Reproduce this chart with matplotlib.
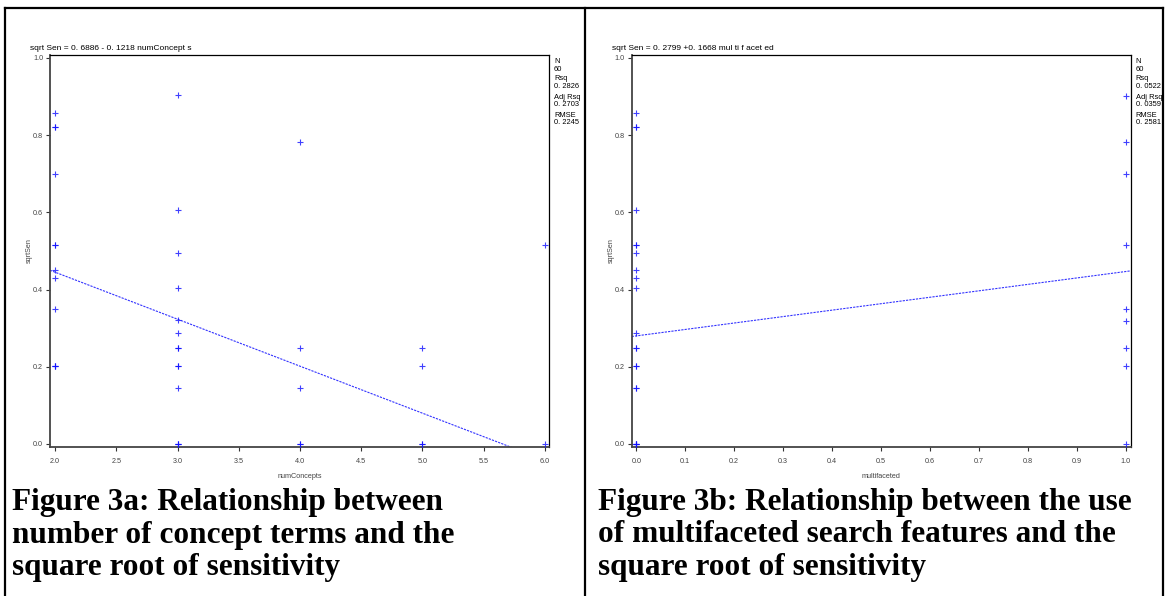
import matplotlib.pyplot as plt
from matplotlib.lines import Line2D

# data
# Figure 3a: numConcepts vs sqrtSen
num_concepts = [2, 2, 2, 2, 2, 2, 2, 2, 2, 2, 2, 2,
                3, 3, 3, 3, 3, 3, 3, 3, 3, 3, 3, 3, 3, 3,
                4, 4, 4, 4, 4,
                5, 5, 5, 5,
                6, 6]
sqrt_sen_a = [0.857, 0.820, 0.820, 0.699, 0.516, 0.516, 0.451, 0.429, 0.350, 0.203, 0.203, 0.203,
              0.903, 0.606, 0.494, 0.405, 0.320, 0.287, 0.248, 0.248, 0.203, 0.203, 0.144, 0.0, 0.0, 0.0,
              0.782, 0.248, 0.144, 0.0, 0.0,
              0.248, 0.203, 0.0, 0.0,
              0.516, 0.0]
coef_a = (0.6886, -0.1218)
stats_a = ['N', '60', 'Rsq', '0. 2826', 'Adj Rsq', '0. 2703', 'RMSE', '0. 2245']

# Figure 3b: multifaceted vs sqrtSen
multifaceted = [0, 0, 0, 0, 0, 0, 0, 0, 0, 0, 0, 0, 0, 0, 0, 0, 0, 0, 0, 0, 0,
                1, 1, 1, 1, 1, 1, 1, 1, 1]
sqrt_sen_b = [0.857, 0.820, 0.820, 0.606, 0.516, 0.516, 0.494, 0.451, 0.429, 0.405, 0.287,
              0.248, 0.248, 0.203, 0.203, 0.144, 0.144, 0.0, 0.0, 0.0, 0.0,
              0.902, 0.782, 0.699, 0.516, 0.350, 0.319, 0.248, 0.203, 0.0]
coef_b = (0.2799, 0.1668)
stats_b = ['N', '60', 'Rsq', '0. 0522', 'Adj Rsq', '0. 0359', 'RMSE', '0. 2581']

cap_a = ['Figure 3a: Relationship between', 'number of concept terms and the',
         'square root of sensitivity']
cap_b = ['Figure 3b: Relationship between the use', 'of multifaceted search features and the',
         'square root of sensitivity']

W, H = 1165, 596
fig = plt.figure(figsize=(W / 100, H / 100), dpi=100)
plt.rcParams['font.family'] = ['Liberation Sans', 'DejaVu Sans']


def fx(px):
    return px / W


def fy(py):
    return 1 - py / H


# outer frame and divider
for (x0, y0, x1, y1) in [(5, 8, 1163, 8), (5, 8, 5, 596), (585, 8, 585, 596), (1163, 8, 1163, 596)]:
    fig.add_artist(Line2D([fx(x0), fx(x1)], [fy(y0), fy(y1)], color='black', lw=1.6))


def panel(left, right, x, y, coef, xlim, xticks, xlab, title, stats, stats_x):
    ax = fig.add_axes([fx(left), fy(447), fx(right - left), (447 - 54.5) / H])
    ax.scatter(x, y, marker='+', s=14, color='#1010ff', linewidths=0.8, alpha=0.8, zorder=3)
    b0, b1 = coef
    ax.plot(xlim, [b0 + b1 * xlim[0], b0 + b1 * xlim[1]], color='#3333ff', lw=0.8,
            dashes=(2, 1), zorder=2)
    ax.set_xlim(xlim)
    ax.set_ylim(-0.008, 1.009)
    ax.set_xticks(xticks)
    ax.set_xticklabels(['%.1f' % t for t in xticks])
    ax.set_yticks([0.0, 0.2, 0.4, 0.6, 0.8, 1.0])
    ax.set_yticklabels(['0.0', '0.2', '0.4', '0.6', '0.8', '1.0'])
    ax.tick_params(labelsize=5.2, labelcolor='#444444', length=3, width=0.8, pad=2, color='#333333')
    ax.tick_params(axis='x', pad=5)
    for s in ['left', 'bottom']:
        ax.spines[s].set_color('#444444')
        ax.spines[s].set_linewidth(1.3)
    for s in ['top', 'right']:
        ax.spines[s].set_color('black')
        ax.spines[s].set_linewidth(0.9)
    ax.set_xlabel(xlab, fontsize=5.2, color='#444444')
    ax.xaxis.set_label_coords(0.5, -0.066)
    ax.set_ylabel('sqrtSen', fontsize=5.2, color='#444444')
    ax.yaxis.set_label_coords(-0.034, 0.5)
    fig.text(fx(left - 20), fy(49), title, fontsize=6.0, ha='left', va='center')
    ys = [61.7, 69.3, 79, 86, 97.3, 104, 115.3, 122]
    for s, yy in zip(stats, ys):
        fig.text(fx(stats_x), fy(yy), s, fontsize=5.4, ha='left', va='center')
    return ax


panel(50, 549, num_concepts, sqrt_sen_a, coef_a, (1.959, 6.033),
      [2.0, 2.5, 3.0, 3.5, 4.0, 4.5, 5.0, 5.5, 6.0], 'numConcepts',
      'sqrt Sen = 0. 6886 - 0. 1218 numConcept s', stats_a, 554)
panel(631.7, 1130.7, multifaceted, sqrt_sen_b, coef_b, (-0.0094, 1.0102),
      [0.0, 0.1, 0.2, 0.3, 0.4, 0.5, 0.6, 0.7, 0.8, 0.9, 1.0], 'multifaceted',
      'sqrt Sen = 0. 2799 +0. 1668 mul ti f acet ed', stats_b, 1135.7)

# captions, one line at a time
for lines, x0 in [(cap_a, 12), (cap_b, 598)]:
    for i, line in enumerate(lines):
        fig.text(fx(x0), fy(510 + 32.5 * i), line, fontsize=22.5, fontweight='bold',
                 family='Liberation Serif', ha='left', va='baseline')

fig.savefig('out.png', dpi=100)
